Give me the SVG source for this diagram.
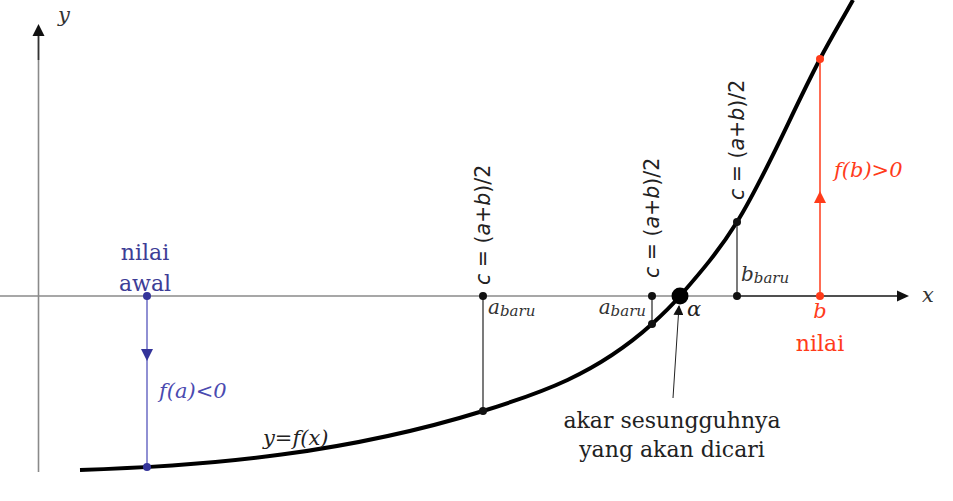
<svg xmlns="http://www.w3.org/2000/svg" width="953" height="501" viewBox="0 0 953 501">
<style>
.ser{font-family:"DejaVu Serif","Liberation Serif",serif;}
.it{font-family:"DejaVu Serif","Liberation Serif",serif;font-style:italic;}
.sans{font-family:"DejaVu Sans","Liberation Sans",sans-serif;font-size:20.5px;fill:#222;}
.vl{stroke:#222;stroke-width:1.2;fill:none;}
</style>
<defs>
<marker id="ah" markerWidth="10" markerHeight="10" refX="9" refY="5" orient="auto" markerUnits="userSpaceOnUse"><path d="M0,0 L10,5 L0,10 Z" fill="#111"/></marker>
</defs>
<rect width="953" height="501" fill="#fff"/>
<g id="axes">
<line x1="38.5" y1="472" x2="38.5" y2="30" stroke="#8a8a8a" stroke-width="1.6"/>
<line x1="38.5" y1="60" x2="38.5" y2="34" stroke="#333" stroke-width="1.6"/>
<path d="M32.5,36 L38.5,24 L44.5,36 Z" fill="#111"/>
<text x="58" y="22" class="it" font-size="21" fill="#333">y</text>
<line x1="0" y1="296" x2="900" y2="296" stroke="#8a8a8a" stroke-width="1.5"/>
<line x1="740" y1="296" x2="900" y2="296" stroke="#333" stroke-width="1.5"/>
<path d="M897,290.5 L909,296 L897,301.5 Z" fill="#111"/>
<text x="922" y="302" class="it" font-size="21" fill="#333">x</text>
</g>
<g id="curve">
<path d="M80,470 C214,466 349,452.6 483,411 C539.3,393.5 595.7,374.7 652,324 C661.3,315.6 670.7,306.7 680,296 C699,274.1 718,252.4 737,222 C764.7,177.7 792.3,111.6 820,59 C831,38.1 842,19.8 853,0" fill="none" stroke="#000" stroke-width="4"/>
<text x="263" y="445" class="it" font-size="21" fill="#222">y=f(x)</text>
</g>
<g id="connectors">
<line class="vl" x1="483" y1="296" x2="483" y2="411"/>
<line class="vl" x1="652" y1="296" x2="652" y2="324"/>
<line class="vl" x1="737" y1="296" x2="737" y2="222"/>
<line x1="673" y1="398" x2="679" y2="306" stroke="#222" stroke-width="1" marker-end="url(#ah)"/>
</g>
<g id="start-a">
<line x1="147" y1="296" x2="147" y2="467" stroke="#6b6bc4" stroke-width="1.5"/>
<path d="M141,349 L153,349 L147,361 Z" fill="#34349a"/>
<circle cx="147" cy="296" r="4" fill="#34349a"/>
<circle cx="147" cy="467" r="4" fill="#34349a"/>
<text x="145" y="260" class="ser" font-size="22" fill="#3d3d96" text-anchor="middle">nilai</text>
<text x="145" y="291" class="ser" font-size="22" fill="#3d3d96" text-anchor="middle">awal</text>
<text x="159" y="398" class="it" font-size="21" fill="#4a4ab0">f(a)&lt;0</text>
</g>
<g id="mid1">
<circle cx="483" cy="296" r="4" fill="#111"/>
<circle cx="483" cy="411" r="4" fill="#111"/>
<text class="sans" transform="translate(490,285) rotate(-90)"><tspan font-style="italic">c</tspan> = (<tspan font-style="italic">a</tspan>+<tspan font-style="italic">b</tspan>)/2</text>
<text x="488" y="314" class="it" font-size="20" fill="#333">a<tspan font-size="15" dy="2">baru</tspan></text>
</g>
<g id="mid2">
<circle cx="652" cy="296" r="4" fill="#111"/>
<circle cx="652" cy="324" r="4" fill="#111"/>
<text class="sans" transform="translate(659,278) rotate(-90)"><tspan font-style="italic">c</tspan> = (<tspan font-style="italic">a</tspan>+<tspan font-style="italic">b</tspan>)/2</text>
<text x="646" y="314" class="it" font-size="20" fill="#333" text-anchor="end">a<tspan font-size="15" dy="2">baru</tspan></text>
</g>
<g id="mid3">
<circle cx="737" cy="296" r="4" fill="#111"/>
<circle cx="737" cy="222" r="4" fill="#111"/>
<text class="sans" transform="translate(744,200) rotate(-90)"><tspan font-style="italic">c</tspan> = (<tspan font-style="italic">a</tspan>+<tspan font-style="italic">b</tspan>)/2</text>
<text x="741" y="281" class="it" font-size="20" fill="#333">b<tspan font-size="15" dy="2">baru</tspan></text>
</g>
<g id="root">
<circle cx="680" cy="296" r="8.5" fill="#000"/>
<text x="687" y="316" class="it" font-size="21" fill="#222">α</text>
<text x="672" y="428" class="ser" font-size="22" fill="#222" text-anchor="middle">akar sesungguhnya</text>
<text x="672" y="457" class="ser" font-size="22" fill="#222" text-anchor="middle">yang akan dicari</text>
</g>
<g id="end-b">
<line x1="820" y1="296" x2="820" y2="59" stroke="#ff3b1a" stroke-width="1.5"/>
<path d="M814,203 L826,203 L820,191 Z" fill="#ff3b1a"/>
<circle cx="820" cy="296" r="4" fill="#ff3b1a"/>
<circle cx="820" cy="59" r="4" fill="#ff3b1a"/>
<text x="834" y="177" class="it" font-size="21" fill="#ff3b1a">f(b)&gt;0</text>
<text x="820" y="318" class="it" font-size="21" fill="#ff3b1a" text-anchor="middle">b</text>
<text x="820" y="351" class="ser" font-size="22" fill="#ff3b1a" text-anchor="middle">nilai</text>
</g>
</svg>
